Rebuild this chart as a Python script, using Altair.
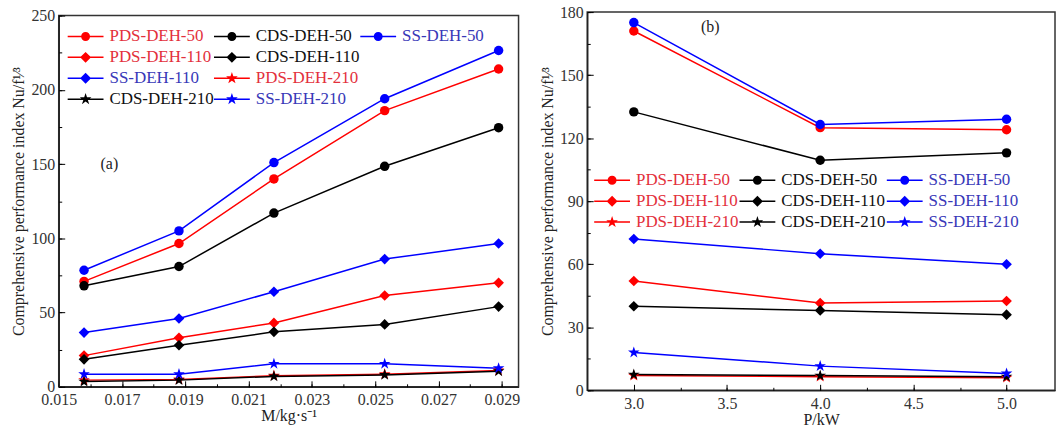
import math
import altair as alt
import pandas as pd

FONT = "Liberation Serif"

# ---------------- data ----------------
series_names = ["PDS-DEH-50", "CDS-DEH-50", "SS-DEH-50",
                "PDS-DEH-110", "CDS-DEH-110", "SS-DEH-110",
                "PDS-DEH-210", "CDS-DEH-210", "SS-DEH-210"]
series_colors = ["#ff0000", "#000000", "#0000ff"] * 3
series_markers = ["circle"] * 3 + ["diamond"] * 3 + ["star"] * 3

# panel (a): mass flow rate
mass_flow = [0.0158, 0.0188, 0.0218, 0.0253, 0.0289]
a_pds_50 = [71, 96.5, 140, 186, 214]
a_cds_50 = [68, 81, 117, 148.5, 174.5]
a_ss_50 = [78.5, 105, 151, 194, 226.5]
a_pds_110 = [21, 33, 43, 61.5, 70]
a_cds_110 = [18.5, 28, 37, 42, 54]
a_ss_110 = [36.5, 46, 64, 86, 96.5]
a_pds_210 = [4.5, 5, 7.5, 8.5, 11]
a_cds_210 = [3.5, 4.5, 7, 8, 10.5]
a_ss_210 = [8.5, 8.5, 15.5, 15.5, 12.5]

# panel (b): heating power
power = [3.0, 4.0, 5.0]
b_pds_50 = [171, 125, 124]
b_cds_50 = [132.5, 109.5, 113]
b_ss_50 = [175, 126.5, 129]
b_pds_110 = [52, 41.5, 42.5]
b_cds_110 = [40, 38, 36]
b_ss_110 = [72, 65, 60]
b_pds_210 = [7, 6.5, 6]
b_cds_210 = [7.5, 7, 6.5]
b_ss_210 = [18, 11.5, 8]

a_x_major = [0.015, 0.017, 0.019, 0.021, 0.023, 0.025, 0.027, 0.029]
a_x_minor = [0.015, 0.016, 0.017, 0.018, 0.019, 0.020, 0.021, 0.022,
             0.023, 0.024, 0.025, 0.026, 0.027, 0.028, 0.029]
a_y_major = [0, 50, 100, 150, 200, 250]
a_y_minor = [0, 25, 50, 75, 100, 125, 150, 175, 200, 225, 250]
b_x_major = [3.0, 3.5, 4.0, 4.5, 5.0]
b_x_minor = [3.0, 3.25, 3.5, 3.75, 4.0, 4.25, 4.5, 4.75, 5.0]
b_y_major = [0, 30, 60, 90, 120, 150, 180]
b_y_minor = [0, 15, 30, 45, 60, 75, 90, 105, 120, 135, 150, 165, 180]

ann_a_label = ["(a)"]
ann_a_x = [0.0166]
ann_a_y = [150]
ann_b_label = ["(b)"]
ann_b_x = [3.41]
ann_b_y = [173]


def tidy(xvals, series_lists, key):
    rows = []
    for name, vals in zip(series_names, series_lists):
        marker = series_markers[series_names.index(name)]
        for xv, yv in zip(xvals, vals):
            rows.append({"x": xv, "y": yv, key: name, "marker": marker})
    return pd.DataFrame(rows)


df_a = tidy(mass_flow, [a_pds_50, a_cds_50, a_ss_50, a_pds_110, a_cds_110,
                        a_ss_110, a_pds_210, a_cds_210, a_ss_210], "series_a")
df_b = tidy(power, [b_pds_50, b_cds_50, b_ss_50, b_pds_110, b_cds_110,
                    b_ss_110, b_pds_210, b_cds_210, b_ss_210], "series_b")
ann_a = pd.DataFrame({"x": ann_a_x, "y": ann_a_y, "label": ann_a_label})
ann_b = pd.DataFrame({"x": ann_b_x, "y": ann_b_y, "label": ann_b_label})


# ---------------- symbols ----------------
def star_path(cx, r_out, r_in):
    pts = []
    for k in range(10):
        ang = math.radians(-90 + 36 * k)
        r = r_out if k % 2 == 0 else r_in
        pts.append((cx + r * math.cos(ang), r * math.sin(ang)))
    return "M" + "L".join(f"{px:.3f},{py:.3f}" for px, py in pts) + "Z"


STAR = star_path(0, 1, 0.382)
# legend glyph: a thin filled bar (the line) plus the marker, all clockwise
LEG_LINE = "M-1,-0.075H2.6V0.075H-1Z"
LEG_PATH = {
    "circle": LEG_LINE + "M0.35,0A0.45,0.45 0 1,1 1.25,0A0.45,0.45 0 1,1 0.35,0Z",
    "diamond": LEG_LINE + "M0.8,-0.55L1.35,0L0.8,0.55L0.25,0Z",
    "star": LEG_LINE + star_path(0.8, 0.62, 0.24),
}

LABEL_COLOR = ("indexof(datum.value, 'PDS') === 0 ? '#e3303c' : "
               "(indexof(datum.value, 'SS') === 0 ? '#3838b8' : '#111111')")


def legend_spec(domain):
    colors, paths = [], []
    for d in domain:
        if d.strip() == "":
            colors.append("transparent")
            paths.append("M0,0")
        else:
            i = series_names.index(d)
            colors.append(series_colors[i])
            paths.append(LEG_PATH[series_markers[i]])
    return colors, paths


def panel(df, key, ann, xdomain, xmajor, xminor, xfmt, xtitle, ydomain, ymajor,
          yminor, width, height, leg_domain, leg_x, leg_y, col_pad):
    xs = alt.Scale(domain=xdomain, nice=False, zero=False)
    ys = alt.Scale(domain=ydomain, nice=False, zero=False)
    cscale = alt.Scale(domain=series_names, range=series_colors)

    x_main = alt.Axis(orient="bottom", values=xmajor, format=xfmt, ticks=False,
                      grid=False, title=xtitle, labelPadding=5, titlePadding=0,
                      labelFlush=False)
    y_main = alt.Axis(orient="left", values=ymajor, format="d", ticks=False,
                      grid=False,
                      title="Comprehensive performance index Nu/f\u00b9\u2044\u00b3",
                      labelPadding=4, titlePadding=4)
    x_maj = alt.Axis(orient="bottom", values=xmajor, labels=False, domain=False,
                     grid=False, tickSize=6, offset=-6, title=None,
                     tickColor="#000", tickWidth=1)
    y_maj = alt.Axis(orient="left", values=ymajor, labels=False, domain=False,
                     grid=False, tickSize=6, offset=-6, title=None,
                     tickColor="#000", tickWidth=1)
    x_min = alt.Axis(orient="bottom", values=xminor, labels=False, domain=False,
                     grid=False, tickSize=3, offset=-3, title=None,
                     tickColor="#000", tickWidth=1)
    y_min = alt.Axis(orient="left", values=yminor, labels=False, domain=False,
                     grid=False, tickSize=3, offset=-3, title=None,
                     tickColor="#000", tickWidth=1)

    base = alt.Chart(df)
    color = alt.Color(f"{key}:N", scale=cscale, legend=None)

    lines = base.mark_line(strokeWidth=1.5).encode(
        x=alt.X("x:Q", scale=xs, axis=x_main),
        y=alt.Y("y:Q", scale=ys, axis=y_main),
        color=color,
    )
    circles = base.transform_filter("datum.marker === 'circle'").mark_point(
        filled=True, size=90, opacity=1, shape="circle").encode(
        x=alt.X("x:Q", scale=xs, axis=x_maj),
        y=alt.Y("y:Q", scale=ys, axis=y_maj),
        color=color,
    )
    diamonds = base.transform_filter("datum.marker === 'diamond'").mark_point(
        filled=True, size=115, opacity=1, shape="diamond").encode(
        x=alt.X("x:Q", scale=xs, axis=x_min),
        y=alt.Y("y:Q", scale=ys, axis=y_min),
        color=color,
    )
    stars = base.transform_filter("datum.marker === 'star'").mark_point(
        filled=True, size=150, opacity=1, shape=STAR).encode(
        x=alt.X("x:Q", scale=xs, axis=None),
        y=alt.Y("y:Q", scale=ys, axis=None),
        color=color,
    )

    leg_colors, leg_paths = legend_spec(leg_domain)
    leg = alt.Legend(orient="none", legendX=leg_x, legendY=leg_y, columns=3,
                     direction="horizontal",
                     columnPadding=col_pad, rowPadding=3, title=None,
                     labelFont=FONT, labelFontSize=17, labelOffset=22,
                     symbolSize=400, symbolStrokeWidth=0, padding=0,
                     labelColor={"expr": LABEL_COLOR})
    legend_layer = base.transform_filter("datum.y < -1000").mark_point(
        filled=True, opacity=1).encode(
        x=alt.X("x:Q", scale=xs, axis=None),
        y=alt.Y("y:Q", scale=ys, axis=None),
        fill=alt.Fill(f"{key}:N", scale=alt.Scale(domain=leg_domain, range=leg_colors), legend=leg),
        shape=alt.Shape(f"{key}:N", scale=alt.Scale(domain=leg_domain, range=leg_paths), legend=leg),
    )
    text = alt.Chart(ann).mark_text(font=FONT, fontSize=16, color="#222").encode(
        x=alt.X("x:Q", scale=xs, axis=None),
        y=alt.Y("y:Q", scale=ys, axis=None),
        text="label:N",
    )
    return alt.layer(lines, circles, diamonds, stars, legend_layer, text).resolve_axis(
        x="independent", y="independent").properties(width=width, height=height)


# legend grids (blank cells keep the reference's arrangement)
left_legend_domain = ["PDS-DEH-50", "CDS-DEH-50", "SS-DEH-50",
                      "PDS-DEH-110", "CDS-DEH-110", " ",
                      "SS-DEH-110", "PDS-DEH-210", "  ",
                      "CDS-DEH-210", "SS-DEH-210"]
right_legend_domain = series_names + ["   "]

left = panel(df_a, "series_a", ann_a, [0.015, 0.02953], a_x_major, a_x_minor, ".3f",
             "M/kg\u00b7s\u207b\u00b9", [0, 250], a_y_major, a_y_minor,
             462, 373, left_legend_domain, 9, 11, 0)
right = panel(df_b, "series_b", ann_b, [2.75, 5.26], b_x_major, b_x_minor, ".1f",
              "P/kW", [0, 180], b_y_major, b_y_minor,
              470, 380, right_legend_domain, 7, 159, 1)

chart = alt.hconcat(left, right, spacing=18, center=True).resolve_scale(
    color="independent", fill="independent", stroke="independent",
    shape="independent"
).resolve_legend(
    color="independent", fill="independent", stroke="independent",
    shape="independent"
).configure(
    padding={"left": 10, "top": 2, "right": 0, "bottom": 0},
    background="white",
).configure_view(
    stroke="#333", strokeWidth=1.5
).configure_axis(
    labelFont=FONT, titleFont=FONT, labelFontSize=16, titleFontSize=16,
    titleFontWeight="normal", labelColor="#333", titleColor="#222",
    domainColor="#222", domainWidth=1.5
)

chart.save("out.html", embed_options={"renderer": "svg", "actions": False})
